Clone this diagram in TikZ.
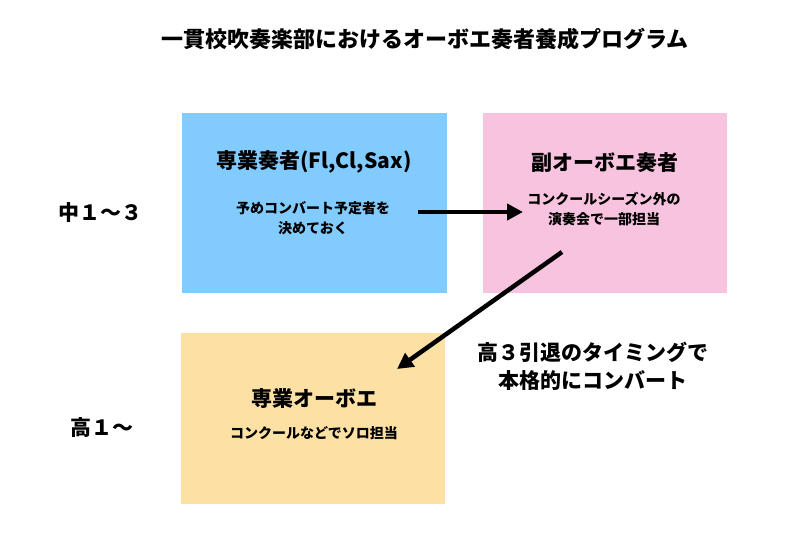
\documentclass[tikz,border=0pt]{standalone}
\usepackage{fontspec}
\setmainfont{Noto Sans CJK JP}
\usetikzlibrary{arrows.meta}
\definecolor{boxblue}{HTML}{82CBFE}
\definecolor{boxpink}{HTML}{F8C3DF}
\definecolor{boxorange}{HTML}{FDE0A3}
\tikzset{
  box/.style={draw=none, inner sep=0pt},
  maintitle/.style={font=\fontsize{22}{26}\selectfont\bfseries, inner sep=0pt},
  boxtitle/.style={font=\fontsize{21}{25}\selectfont\bfseries, inner sep=0pt},
  boxtext/.style={font=\fontsize{14}{20}\selectfont\bfseries, align=center, inner sep=0pt},
  sidelabel/.style={font=\fontsize{21}{28}\selectfont\bfseries, align=center, inner sep=0pt},
  bigarrow/.style={line width=4.5pt, -{Triangle[length=16pt,width=16pt]}}
}
\begin{document}
\begin{tikzpicture}[x=1pt,y=-1pt]
\useasboundingbox (0,0) rectangle (800,550);
\fill[white] (0,0) rectangle (800,550);
\node[maintitle] (title) at (425,39) {一貫校吹奏楽部におけるオーボエ奏者養成プログラム};
\node[box, fill=boxblue, minimum width=265pt, minimum height=180pt] (blue) at (314.5,203) {};
\node[box, fill=boxpink, minimum width=244pt, minimum height=180pt] (pink) at (605,203) {};
\node[box, fill=boxorange, minimum width=264pt, minimum height=171pt] (orange) at (313,418.5) {};
\node[boxtitle] (bluetitle) at (314,162) {専業奏者(Fl,Cl,Sax)};
\node[boxtext] (bluetext) at (313,218) {予めコンバート予定者を\\決めておく};
\node[boxtitle] (pinktitle) at (605,163) {副オーボエ奏者};
\node[boxtext] (pinktext) at (604,209) {コンクールシーズン外の\\演奏会で一部担当};
\node[boxtitle] (orangetitle) at (314,398) {専業オーボエ};
\node[boxtext] (orangetext) at (314,433) {コンクールなどでソロ担当};
\node[sidelabel] (lab1) at (100,213) {中１〜３};
\node[sidelabel] (lab2) at (102,427) {高１〜};
\node[sidelabel] (convtext) at (593,366) {高３引退のタイミングで\\本格的にコンバート};
\coordinate (a1s) at (418,212);
\coordinate (a1e) at (523,212);
\coordinate (a2s) at (562,252);
\coordinate (a2e) at (397,369);
\draw[bigarrow] (a1s) -- (a1e);
\draw[bigarrow] (a2s) -- (a2e);
\end{tikzpicture}
\end{document}
